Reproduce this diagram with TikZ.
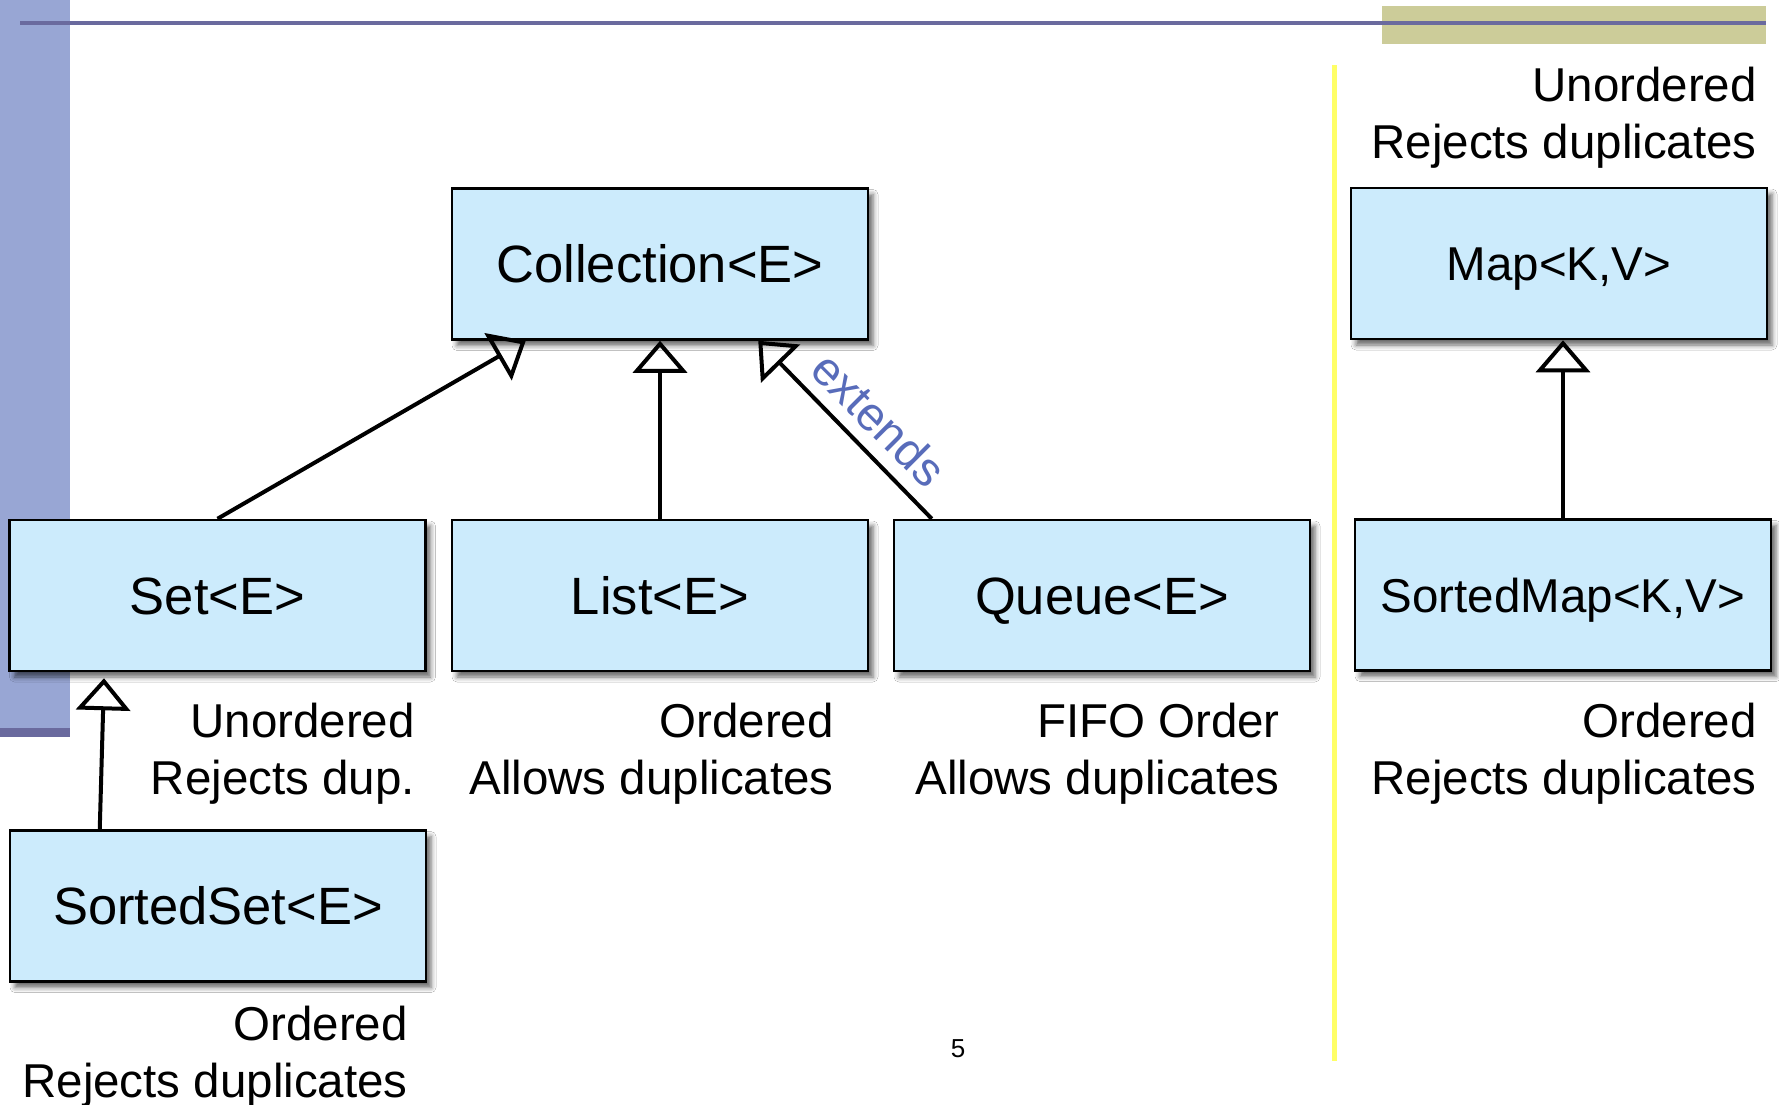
\documentclass[tikz,border=0pt]{standalone}
\usepackage{fontspec}
\setmainfont{Liberation Sans}
\usetikzlibrary{arrows.meta,shadows.blur}

\definecolor{boxfill}{RGB}{204,235,252}
\definecolor{barblue}{RGB}{152,166,212}
\definecolor{rulecol}{RGB}{106,106,158}
\definecolor{olivebar}{RGB}{204,204,153}
\definecolor{sepyellow}{RGB}{255,255,102}
\definecolor{extblue}{RGB}{88,108,186}

\begin{document}
\begin{tikzpicture}[x=1pt,y=-1pt,
  iface/.style={draw=black, line width=2.5pt, fill=boxfill,
    minimum width=416pt, minimum height=151pt, inner sep=0pt,
    font=\fontsize{52.5pt}{63pt}\selectfont, text height=37.6pt, text depth=0pt,
    blur shadow={shadow xshift=5pt, shadow yshift=-6pt, shadow blur radius=5pt, shadow opacity=60}},
  mapiface/.style={iface, font=\fontsize{47.5pt}{57pt}\selectfont, text height=34pt},
  remark/.style={anchor=base east, inner sep=0pt, font=\fontsize{47.5pt}{57pt}\selectfont},
  inh/.style={line width=4pt, -{Triangle[open, length=32pt, width=54pt]}}
]
\useasboundingbox (0,0) rectangle (1779,1104);

% page background and slide decoration
\fill[white] (0,0) rectangle (1779,1104);
\fill[barblue] (0,0) rectangle (70,737);
\fill[rulecol] (0,728) rectangle (70,737);
\fill[olivebar] (1382,6) rectangle (1766,44);
\fill[rulecol] (20,20.7) rectangle (1766,24.7);
\fill[sepyellow] (1332,65) rectangle (1337,1061);

% interfaces
\node[iface] (coll)  at (660,264)    {Collection<E>};
\node[iface] (set)   at (217.5,595.5) {Set<E>};
\node[iface] (list)  at (660,595.5)  {List<E>};
\node[iface] (queue) at (1102,595.5) {Queue<E>};
\node[mapiface] (map)  at (1559,263.5) {Map<K,V>};
\node[mapiface] (smap) at (1563,595)   {SortedMap<K,V>};
\node[iface] (sset)  at (218,906)    {SortedSet<E>};

% properties of each interface
\node[remark] (mapA)   at (1757,101)  {Unordered};
\node[remark] (mapB)   at (1757,158)  {Rejects duplicates};
\node[remark] (setA)   at (415,737)   {Unordered};
\node[remark] (setB)   at (415,794)   {Rejects dup.};
\node[remark] (listA)  at (834,737)   {Ordered};
\node[remark] (listB)  at (834,794)   {Allows duplicates};
\node[remark] (queueA) at (1280,737)  {FIFO Order};
\node[remark] (queueB) at (1280,794)  {Allows duplicates};
\node[remark] (smapA)  at (1757,737)  {Ordered};
\node[remark] (smapB)  at (1757,794)  {Rejects duplicates};
\node[remark] (ssetA)  at (408,1040)  {Ordered};
\node[remark] (ssetB)  at (408,1097)  {Rejects duplicates};

% inheritance
\draw[inh] (set.north) -- ([xshift=75pt]coll.south west);
\draw[inh] (list.north) -- (coll.south);
\draw[inh] ([xshift=39pt]queue.north west) -- ([xshift=-111pt]coll.south east);
\draw[inh] (smap.north) -- (smap.north |- map.south);
\draw[inh] ([xshift=91pt]sset.north west) -- ([xshift=-113.5pt,yshift=-6pt]set.south);

\node[rotate=-45, text=extblue, inner sep=0pt, font=\fontsize{47.5pt}{54pt}\selectfont] (ext) at (879,419) {extends};

% page number
\node[anchor=base, inner sep=0pt, font=\fontsize{26pt}{30pt}\selectfont] (pnum) at (958,1057) {5};
\end{tikzpicture}
\end{document}
